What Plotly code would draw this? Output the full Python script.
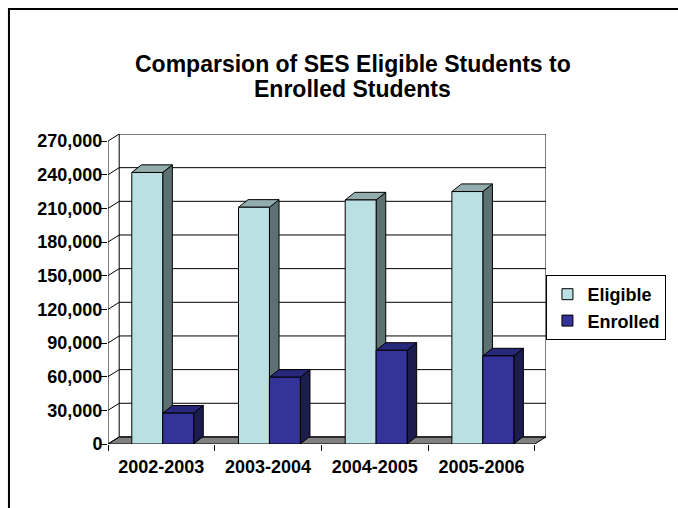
import plotly.graph_objects as go

# ---------------- data ----------------
categories = ["2002-2003", "2003-2004", "2004-2005", "2005-2006"]
eligible = [242000, 211000, 217500, 225000]
enrolled = [27500, 59500, 83500, 78500]
y_tick_values = [0, 30000, 60000, 90000, 120000, 150000, 180000, 210000, 240000, 270000]
y_tick_labels = ["0", "30,000", "60,000", "90,000", "120,000", "150,000",
                 "180,000", "210,000", "240,000", "270,000"]
series_names = ["Eligible", "Enrolled"]
title_lines = ["Comparsion of SES Eligible Students to", "Enrolled Students"]

# ---------------- style / geometry constants ----------------
Y_MAX = 270000
WALL_DX, WALL_DY = 0.105, 6300      # depth of back wall (x units, y units)
BAR_DX, BAR_DY = 0.09, 6800         # depth of each bar
E_X0, E_X1 = -0.277, 0.013          # eligible bar offsets within a category
N_X0, N_X1 = 0.013, 0.303           # enrolled bar offsets within a category

COLORS = {
    "Eligible": {"front": "#BBE0E3", "side": "#5E7172", "top": "#93ADAE"},
    "Enrolled": {"front": "#333399", "side": "#1C1C4E", "top": "#28287A"},
}
FONT = "Liberation Sans, Arial, sans-serif"

fig = go.Figure()


def poly_trace(polys, fill, width=1):
    xs, ys = [], []
    for p in polys:
        for (px, py) in p:
            xs.append(px)
            ys.append(py)
        xs.append(p[0][0])
        ys.append(p[0][1])
        xs.append(None)
        ys.append(None)
    return go.Scatter(x=xs, y=ys, mode="lines", fill="toself", fillcolor=fill,
                      line=dict(color="black", width=width), hoverinfo="skip",
                      showlegend=False)


def line_trace(segs, width=1, color="black"):
    xs, ys = [], []
    for (a, b) in segs:
        xs += [a[0], b[0], None]
        ys += [a[1], b[1], None]
    return go.Scatter(x=xs, y=ys, mode="lines", line=dict(color=color, width=width),
                      hoverinfo="skip", showlegend=False)


n = len(categories)
xl, xr = -0.5, n - 0.5

# floor
floor = [[(xl, 0), (xr, 0), (xr + WALL_DX, WALL_DY), (xl + WALL_DX, WALL_DY)]]
fig.add_trace(poly_trace(floor, "#808080"))

# walls, gridlines, diagonals, front axis
segs = []
for v in y_tick_values:
    segs.append(((xl + WALL_DX, v + WALL_DY), (xr + WALL_DX, v + WALL_DY)))
    segs.append(((xl, v), (xl + WALL_DX, v + WALL_DY)))
segs.append(((xl + WALL_DX, WALL_DY), (xl + WALL_DX, Y_MAX + WALL_DY)))
segs.append(((xr + WALL_DX, WALL_DY), (xr + WALL_DX, Y_MAX + WALL_DY)))
segs.append(((xl, 0), (xl, Y_MAX)))
fig.add_trace(line_trace(segs))


def bar_faces(values, x0off, x1off):
    fronts, sides, tops = [], [], []
    for i, v in enumerate(values):
        x0, x1 = i + x0off, i + x1off
        fronts.append([(x0, 0), (x1, 0), (x1, v), (x0, v)])
        sides.append([(x1, 0), (x1 + BAR_DX, BAR_DY), (x1 + BAR_DX, v + BAR_DY), (x1, v)])
        tops.append([(x0, v), (x1, v), (x1 + BAR_DX, v + BAR_DY), (x0 + BAR_DX, v + BAR_DY)])
    return fronts, sides, tops


for name, vals, (o0, o1) in [("Eligible", eligible, (E_X0, E_X1)),
                             ("Enrolled", enrolled, (N_X0, N_X1))]:
    fr, sd, tp = bar_faces(vals, o0, o1)
    c = COLORS[name]
    fig.add_trace(poly_trace(sd, c["side"]))
    fig.add_trace(poly_trace(tp, c["top"]))
    fig.add_trace(poly_trace(fr, c["front"]))

# legend entries
for name in series_names:
    fig.add_trace(go.Scatter(x=[None], y=[None], mode="markers", name=name,
                             marker=dict(symbol="square", size=11,
                                         color=COLORS[name]["front"],
                                         line=dict(color="black", width=1))))

# ---------------- layout ----------------
L, R, T, B = 108, 130, 134, 64
PW, PH = 678 - L - R, 508 - T - B


def px_to_paper(px, py):
    return (px - L) / PW, (508 - B - py) / PH


tx, ty1 = px_to_paper(354, 64)
_, ty2 = px_to_paper(354, 89)
annotations = [
    dict(text=title_lines[0], x=tx, y=ty1, xref="paper", yref="paper",
         xanchor="center", yanchor="middle", showarrow=False,
         font=dict(family=FONT, size=23, color="black", weight="bold")),
    dict(text=title_lines[1], x=tx, y=ty2, xref="paper", yref="paper",
         xanchor="center", yanchor="middle", showarrow=False,
         font=dict(family=FONT, size=23, color="black", weight="bold")),
]

bx0, by0 = px_to_paper(8.5, 9)
bx1, by1 = px_to_paper(700, 530)
shapes = [dict(type="rect", xref="paper", yref="paper", x0=bx0, y0=by1, x1=bx1, y1=by0,
               line=dict(color="black", width=2), layer="below")]

lx, ly = px_to_paper(669, 275)

fig.update_layout(
    width=678, height=508,
    margin=dict(l=L, r=R, t=T, b=B, pad=0),
    paper_bgcolor="white", plot_bgcolor="white",
    font=dict(family=FONT, size=18, color="black", weight="bold"),
    annotations=annotations,
    shapes=shapes,
    showlegend=True,
    legend=dict(x=lx, y=ly, xanchor="right", yanchor="top",
                bordercolor="black", borderwidth=1, bgcolor="white",
                font=dict(family=FONT, size=18, color="black", weight="bold"),
                itemwidth=30, tracegroupgap=0),
    xaxis=dict(range=[xl, xr + WALL_DX], tickmode="array",
               tickvals=list(range(n)), ticktext=categories,
               ticks="", showgrid=False, zeroline=False, showline=False,
               ticklabelstandoff=10,
               minor=dict(tickmode="array", tickvals=[i - 0.5 for i in range(n + 1)],
                          ticks="outside", ticklen=6, tickcolor="black", tickwidth=1,
                          showgrid=False),
               fixedrange=True),
    yaxis=dict(range=[0, Y_MAX + WALL_DY], tickmode="array",
               tickvals=y_tick_values, ticktext=y_tick_labels,
               ticks="outside", ticklen=6, tickcolor="black", tickwidth=1,
               ticklabelstandoff=-5,
               showgrid=False, zeroline=False, showline=False, fixedrange=True),
)

fig.write_html("out.html", config={"displayModeBar": False},
               post_script="document.body.style.margin='0';document.body.style.overflow='hidden';")
